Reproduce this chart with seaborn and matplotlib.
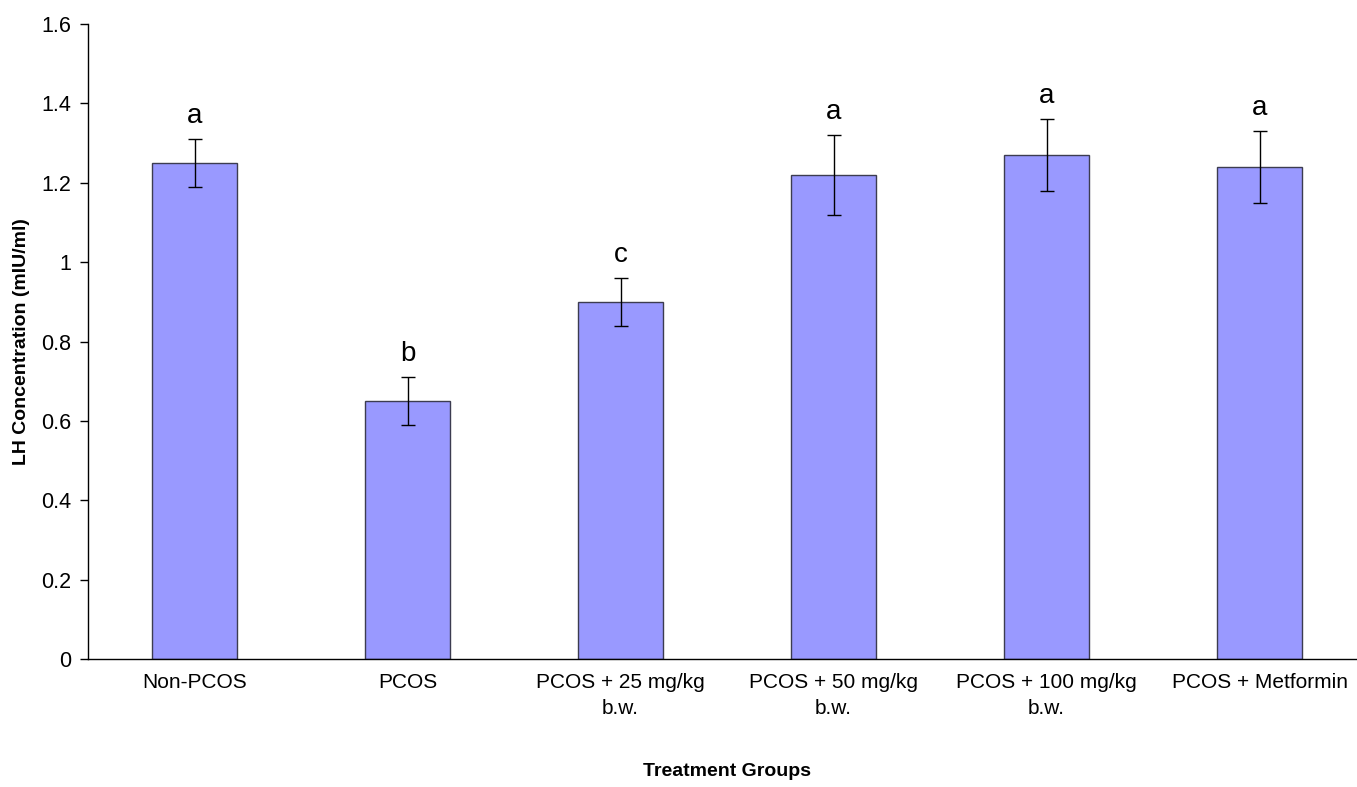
import numpy as np
import pandas as pd
import seaborn as sns
import matplotlib
matplotlib.use("Agg")
import matplotlib.pyplot as plt

groups = ["Non-PCOS", "PCOS", "PCOS + 25 mg/kg\nb.w.", "PCOS + 50 mg/kg\nb.w.",
          "PCOS + 100 mg/kg\nb.w.", "PCOS + Metformin"]
lh = [1.25, 0.65, 0.90, 1.22, 1.27, 1.24]
err = [0.06, 0.06, 0.06, 0.10, 0.09, 0.09]
letters = ["a", "b", "c", "a", "a", "a"]
yticks = [0, 0.2, 0.4, 0.6, 0.8, 1, 1.2, 1.4, 1.6]

sns.set_style("white")
plt.rcParams['font.family'] = ['Liberation Sans', 'DejaVu Sans']
plt.rcParams['text.color'] = 'black'
plt.rcParams['axes.labelcolor'] = 'black'
plt.rcParams['xtick.color'] = 'black'
plt.rcParams['ytick.color'] = 'black'

df = pd.DataFrame({"group": groups, "lh": lh})

fig = plt.figure(figsize=(13.57, 7.87), dpi=100)
ax = fig.add_axes([88 / 1357, 1 - 659 / 787, 1278 / 1357, 635 / 787])

sns.barplot(data=df, x="group", y="lh", color="#9999FF", saturation=1,
            edgecolor="#3c3c50", linewidth=1, width=0.40, errorbar=None, ax=ax)
ax.errorbar(range(len(lh)), lh, yerr=err, fmt="none", ecolor="black",
            elinewidth=1, capsize=5, capthick=1)

for i, (v, e, t) in enumerate(zip(lh, err, letters)):
    ax.text(i, v + e + 0.025, t, ha="center", va="bottom", fontsize=20)

ax.set_xlim(-0.5, len(groups) - 0.5)
ax.set_ylim(0, 1.6)
ax.set_yticks(yticks)
ax.set_yticklabels([f"{t:g}" for t in yticks], fontsize=15.5)
ax.set_xticks(range(len(groups)))
ax.set_xticklabels(groups, fontsize=15, linespacing=1.5)
ax.set_xticks(np.arange(-0.5, len(groups)), minor=True)
ax.tick_params(axis="x", which="major", length=0, pad=10)
ax.tick_params(axis="x", which="minor", length=6, width=1, direction="out")
ax.tick_params(axis="y", length=6, width=1, direction="out", left=True, pad=6)

sns.despine(ax=ax)
for s in ("left", "bottom"):
    ax.spines[s].set_color("black")
    ax.spines[s].set_linewidth(1)

ax.set_xlabel("Treatment Groups", fontsize=14, fontweight="bold", labelpad=32)
ax.set_ylabel("LH Concentration (mIU/ml)", fontsize=14, fontweight="bold", labelpad=8)

fig.savefig("out.png", dpi=100)
